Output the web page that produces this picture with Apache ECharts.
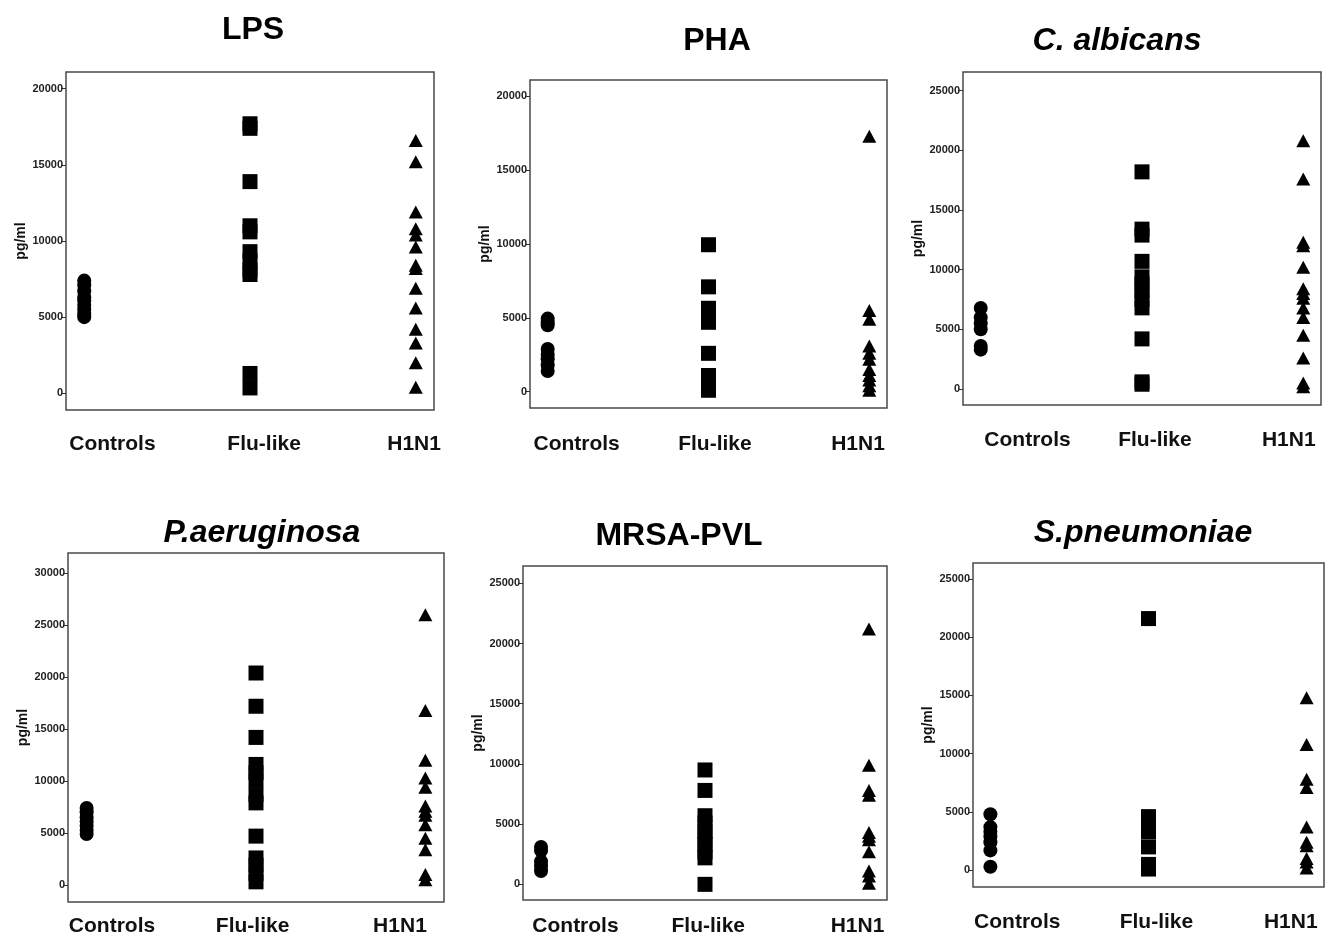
<!DOCTYPE html>
<html>
<head>
<meta charset="utf-8">
<script src="https://cdn.jsdelivr.net/npm/echarts@6/dist/echarts.min.js"></script>
<style>
html,body{margin:0;padding:0;background:#fff;}
#chart{width:1326px;height:935px;}
</style>
</head>
<body>
<div id="chart"></div>
<script>
// ---- data ----
const categories = ['Controls', 'Flu-like', 'H1N1'];
const panelTitles = ['LPS', 'PHA', 'C. albicans', 'P.aeruginosa', 'MRSA-PVL', 'S.pneumoniae'];
const titleItalic = [false, false, true, true, false, true];

const lpsTicks = [0, 5000, 10000, 15000, 20000];
const lpsControls = [7400, 7100, 6700, 6300, 6100, 5800, 5500, 5200, 5000];
const lpsFlu = [17700, 17400, 13900, 11000, 10600, 9300, 8700, 8100, 7800, 1300, 350];
const lpsH1N1 = [16600, 15200, 11900, 10800, 10400, 9600, 8400, 8200, 6900, 5600, 4200, 3300, 2000, 400];

const phaTicks = [0, 5000, 10000, 15000, 20000];
const phaControls = [4950, 4700, 4500, 2900, 2500, 2200, 1800, 1400];
const phaFlu = [9950, 7100, 5650, 4700, 2600, 1100, 600, 100];
const phaH1N1 = [17300, 5500, 4900, 3100, 2600, 2200, 1500, 1100, 800, 400, 100];

const calTicks = [0, 5000, 10000, 15000, 20000, 25000];
const calControls = [6800, 6000, 5500, 5000, 3600, 3300];
const calFlu = [18200, 13400, 12900, 10700, 9400, 8800, 8200, 7500, 6800, 4200, 600, 400];
const calH1N1 = [20800, 17600, 12300, 12000, 10200, 8400, 8000, 7600, 6800, 6000, 4500, 2600, 500, 200];

const paeTicks = [0, 5000, 10000, 15000, 20000, 25000, 30000];
const paeControls = [7400, 7000, 6500, 6100, 5700, 5300, 4900];
const paeFlu = [20400, 17200, 14200, 11600, 10800, 10100, 8700, 7900, 4700, 2600, 1900, 1100, 300];
const paeH1N1 = [26000, 16800, 12000, 10300, 9400, 7600, 7100, 6700, 5800, 4500, 3400, 1000, 500];

const mrsaTicks = [0, 5000, 10000, 15000, 20000, 25000];
const mrsaControls = [3100, 2800, 1900, 1500, 1100];
const mrsaFlu = [9500, 7800, 5700, 5100, 4400, 3900, 3300, 2700, 2200, 0];
const mrsaH1N1 = [21200, 9900, 7800, 7400, 4300, 4000, 3700, 2700, 1100, 700, 100];

const spnTicks = [0, 5000, 10000, 15000, 20000, 25000];
const spnControls = [4800, 3700, 3300, 2900, 2400, 1700, 300];
const spnFlu = [21600, 4600, 3900, 3300, 2000, 500, 100];
const spnH1N1 = [14800, 10800, 7800, 7100, 3700, 2400, 2100, 1000, 700, 200];

const panelTicks = [lpsTicks, phaTicks, calTicks, paeTicks, mrsaTicks, spnTicks];
const panelGroups = [
  [lpsControls, lpsFlu, lpsH1N1],
  [phaControls, phaFlu, phaH1N1],
  [calControls, calFlu, calH1N1],
  [paeControls, paeFlu, paeH1N1],
  [mrsaControls, mrsaFlu, mrsaH1N1],
  [spnControls, spnFlu, spnH1N1]
];

// ---- layout (positions/sizes only) ----
const layout = [
  {left: 66,  top: 72,  width: 368, height: 338, ymin: -1100, ymax: 21100, xlab: [1.17, 2.085, 2.99], labMargin: 24, title: [248, 27]},
  {left: 530, top: 80,  width: 357, height: 328, ymin: -1100, ymax: 21100, xlab: [1.18, 2.04, 2.93],  labMargin: 26, title: [712, 38]},
  {left: 963, top: 72,  width: 358, height: 333, ymin: -1340, ymax: 26570, xlab: [1.29, 2.08, 2.91],  labMargin: 25, title: [1112, 38]},
  {left: 68,  top: 553, width: 376, height: 349, ymin: -1640, ymax: 31950, xlab: [1.15, 1.98, 2.85],  labMargin: 14, title: [257, 530]},
  {left: 523, top: 566, width: 364, height: 334, ymin: -1300, ymax: 26440, xlab: [1.21, 2.02, 2.93],  labMargin: 16, title: [674, 533]},
  {left: 973, top: 563, width: 351, height: 324, ymin: -1440, ymax: 26370, xlab: [1.17, 2.05, 2.90],  labMargin: 25, title: [1138, 530]}
];
const symbols = ['circle', 'rect', 'triangle'];
const symbolSizes = [14, 15, [14, 13]];
const FONT = '"Liberation Sans", Arial, sans-serif';

const grids = [], xAxes = [], yAxes = [], series = [], titles = [];
layout.forEach((L, i) => {
  grids.push({
    left: L.left, top: L.top, width: L.width, height: L.height,
    show: true, borderColor: '#4a4a4a', borderWidth: 1.5, backgroundColor: 'transparent',
    containLabel: false, outerBoundsMode: 'none'
  });
  xAxes.push({
    gridIndex: i, type: 'value', min: 0.89, max: 3.11,
    axisLine: {show: false}, axisTick: {show: false}, splitLine: {show: false},
    axisLabel: {
      customValues: L.xlab, margin: L.labMargin,
      fontSize: 21, fontWeight: 'bold', color: '#111', fontFamily: FONT,
      formatter: v => categories[Math.round(v) - 1]
    }
  });
  yAxes.push({
    gridIndex: i, type: 'value', min: L.ymin, max: L.ymax,
    axisLine: {show: false}, splitLine: {show: false},
    axisTick: {show: true, customValues: panelTicks[i], length: 5, lineStyle: {color: '#333', width: 1}},
    axisLabel: {customValues: panelTicks[i], margin: 3, fontSize: 11, fontWeight: 'bold', color: '#222', fontFamily: FONT,
      formatter: v => String(v)},
    name: 'pg/ml', nameLocation: 'middle', nameGap: 35,
    nameTextStyle: {fontSize: 14, fontWeight: 'bold', color: '#111', fontFamily: FONT}
  });
  panelGroups[i].forEach((vals, g) => {
    series.push({
      type: 'scatter', xAxisIndex: i, yAxisIndex: i,
      name: categories[g], symbol: symbols[g], symbolSize: symbolSizes[g],
      itemStyle: {color: '#000', opacity: 1},
      emphasis: {disabled: true}, silent: true,
      data: vals.map(v => [g + 1, v])
    });
  });
  titles.push({
    text: panelTitles[i], left: L.title[0], top: L.title[1] - 18, textAlign: 'center',
    textStyle: {fontSize: 32, fontWeight: 'bold', fontStyle: titleItalic[i] ? 'italic' : 'normal', color: '#000', fontFamily: FONT}
  });
});

const chart = echarts.init(document.getElementById('chart'), null, {renderer: 'canvas'});
chart.setOption({
  animation: false,
  backgroundColor: '#fff',
  title: titles,
  grid: grids,
  xAxis: xAxes,
  yAxis: yAxes,
  series: series
});
</script>
</body>
</html>
